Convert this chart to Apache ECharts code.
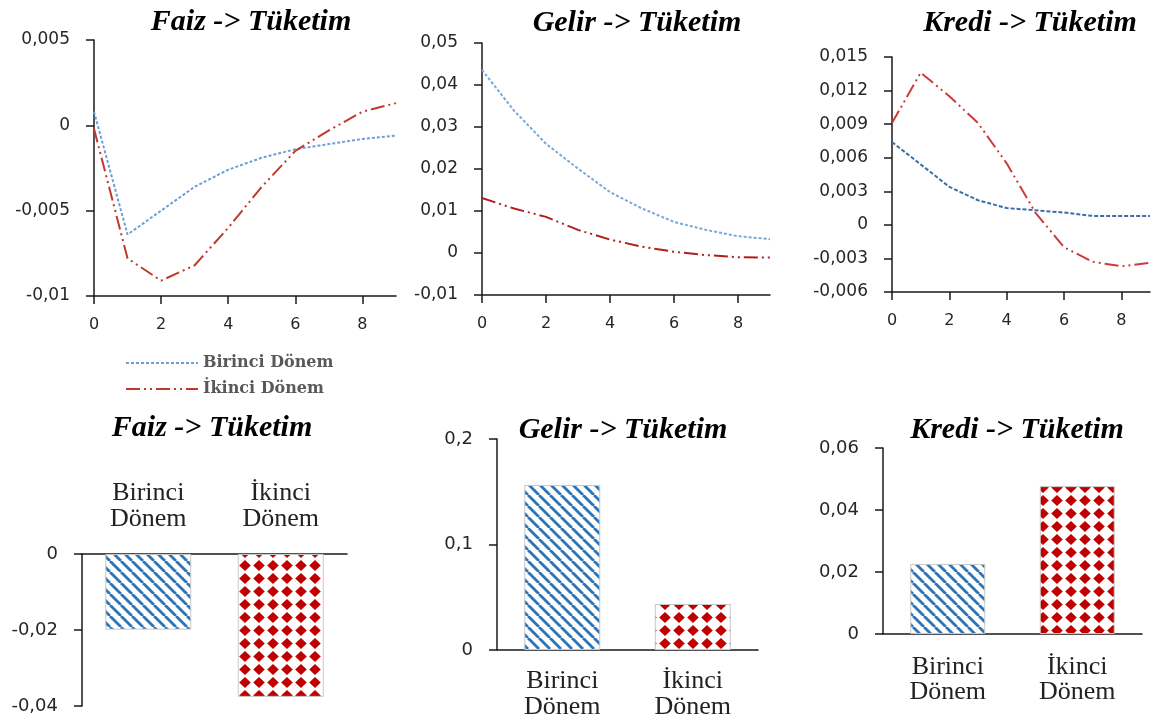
<!DOCTYPE html>
<html>
<head>
<meta charset="utf-8">
<script src="https://cdn.jsdelivr.net/npm/echarts@6/dist/echarts.min.js"></script>
<style>
  html, body { margin: 0; padding: 0; background: #fff; }
  #main { width: 1154px; height: 721px; }
</style>
</head>
<body>
<div id="main"></div>
<script>
// periods 0..9 (tick labels on the top row)
const steps = ['0', '1', '2', '3', '4', '5', '6', '7', '8', '9'];

// impulse responses, first / second period
const faizBirinci = [0.0008, -0.0064, -0.005, -0.0036, -0.0026, -0.0019, -0.0014, -0.0011, -0.0008, -0.0006];
const faizIkinci = [-0.0002, -0.0078, -0.0091, -0.0082, -0.006, -0.0036, -0.0015, -0.0003, 0.0008, 0.0013];
const gelirBirinci = [0.0436, 0.0339, 0.026, 0.0201, 0.0145, 0.0106, 0.0074, 0.0055, 0.004, 0.0033];
const gelirIkinci = [0.0131, 0.0106, 0.0086, 0.0055, 0.0032, 0.0015, 0.0003, -0.0005, -0.001, -0.0011];
const krediBirinci = [0.0074, 0.0054, 0.0034, 0.0022, 0.0015, 0.0013, 0.0011, 0.0008, 0.0008, 0.0008];
const krediIkinci = [0.0091, 0.0136, 0.0115, 0.0091, 0.0055, 0.0011, -0.002, -0.0033, -0.0037, -0.0034];

// cumulative responses (bar charts)
const barCats = ['Birinci\nDönem', 'İkinci\nDönem'];
const faizBar = [-0.0199, -0.0376];
const gelirBar = [0.1564, 0.0436];
const krediBar = [0.0226, 0.0477];

const titles = ['Faiz -> Tüketim', 'Gelir -> Tüketim', 'Kredi -> Tüketim'];

// fill patterns for the bars
function stripes () {
  const c = document.createElement('canvas');
  c.width = 11; c.height = 11;
  const g = c.getContext('2d');
  g.fillStyle = '#fff';
  g.fillRect(0, 0, 11, 11);
  g.strokeStyle = '#2e75b6';
  g.lineWidth = 2.8;
  [-11, 0, 11].forEach(o => {
    g.beginPath();
    g.moveTo(o, 0);
    g.lineTo(o + 11, 11);
    g.stroke();
  });
  return c;
}
function diamonds () {
  const c = document.createElement('canvas');
  c.width = 14; c.height = 13;
  const g = c.getContext('2d');
  g.fillStyle = '#fff';
  g.fillRect(0, 0, 14, 13);
  g.fillStyle = '#c00000';
  g.beginPath();
  g.moveTo(7, 1);
  g.lineTo(12.8, 6.5);
  g.lineTo(7, 12);
  g.lineTo(1.2, 6.5);
  g.closePath();
  g.fill();
  return c;
}
const stripeFill = { image: stripes(), repeat: 'repeat' };
const diamondFill = { image: diamonds(), repeat: 'repeat' };

const comma = v => String(v).replace('.', ',');
const black = '#1a1a1a';

const grids = [
  { left: 94, top: 40, width: 302, height: 256 },
  { left: 482, top: 43, width: 288, height: 252 },
  { left: 892, top: 57, width: 258, height: 235 },
  { left: 82, top: 554, width: 265, height: 152 },
  { left: 497, top: 439, width: 261, height: 211 },
  { left: 883, top: 448, width: 259, height: 186 }
];

const lineX = i => ({
  type: 'category',
  gridIndex: i,
  data: steps,
  boundaryGap: false,
  axisLine: { onZero: false, lineStyle: { color: black, width: 1.5 } },
  axisTick: { interval: 1, length: 8, lineStyle: { color: black, width: 1.5 } },
  axisLabel: { interval: 1, margin: 21, fontFamily: 'DejaVu Sans', fontSize: 16, color: '#262626' },
  splitLine: { show: false }
});
const valY = (i, min, max, interval, fontSize) => ({
  type: 'value',
  gridIndex: i,
  min: min,
  max: max,
  interval: interval,
  axisLine: { show: true, onZero: false, lineStyle: { color: black, width: 1.5 } },
  axisTick: { show: true, length: 8, lineStyle: { color: black, width: 1.5 } },
  axisLabel: { margin: 24, formatter: comma, fontFamily: 'DejaVu Sans', fontSize: fontSize, color: '#262626' },
  splitLine: { show: false }
});
const barX = (i, position, margin, lineHeight) => ({
  type: 'category',
  gridIndex: i,
  data: barCats,
  position: position,
  axisLine: { onZero: false, lineStyle: { color: black, width: 1.5 } },
  axisTick: { show: false },
  axisLabel: { margin: margin, fontFamily: 'Liberation Serif', fontSize: 26, lineHeight: lineHeight, color: '#222' }
});

const line = (name, i, data, color, dash) => ({
  name: name, type: 'line', xAxisIndex: i, yAxisIndex: i, data: data,
  symbol: 'none', lineStyle: { color: color, width: 2, type: dash }, itemStyle: { color: color }
});
const barSeries = (i, data, width) => ({
  name: 'bar' + i, type: 'bar', xAxisIndex: i, yAxisIndex: i, barWidth: width,
  data: data.map((v, k) => ({
    value: v,
    itemStyle: { color: k === 0 ? stripeFill : diamondFill, borderColor: '#c8c8c8', borderWidth: 1 }
  }))
});

const redDash = [14, 4, 2, 4, 2, 4];
const titleSpots = [[251, 22], [637, 23], [1030, 23], [212, 428], [623, 430], [1017, 430]];

const myChart = echarts.init(document.getElementById('main'));
myChart.setOption({
  animation: false,
  grid: grids,
  xAxis: [
    lineX(0), lineX(1), lineX(2),
    barX(3, 'top', 22, 26), barX(4, 'bottom', 18, 26), barX(5, 'bottom', 21, 25)
  ],
  yAxis: [
    valY(0, -0.01, 0.005, 0.005, 17),
    valY(1, -0.01, 0.05, 0.01, 17),
    valY(2, -0.006, 0.015, 0.003, 17),
    valY(3, -0.04, 0, 0.02, 18),
    valY(4, 0, 0.2, 0.1, 18),
    valY(5, 0, 0.06, 0.02, 18)
  ],
  legend: {
    data: ['Birinci Dönem', 'İkinci Dönem'],
    orient: 'vertical',
    left: 120,
    top: 350,
    itemWidth: 72,
    itemHeight: 14,
    itemGap: 10,
    selectedMode: false,
    itemStyle: { opacity: 0 },
    textStyle: { fontFamily: 'DejaVu Serif', fontWeight: 'bold', fontSize: 16, color: '#595959' }
  },
  graphic: titleSpots.map((p, k) => ({
    type: 'text',
    x: p[0],
    y: p[1],
    style: {
      text: titles[k % 3],
      font: 'italic bold 30px "Liberation Serif"',
      fill: '#000',
      textAlign: 'center',
      textVerticalAlign: 'middle'
    }
  })),
  series: [
    line('Birinci Dönem', 0, faizBirinci, '#6b9fd6', [3, 2]),
    line('İkinci Dönem', 0, faizIkinci, '#c0392b', redDash),
    line('Birinci Dönem', 1, gelirBirinci, '#79a8da', [3, 2]),
    line('İkinci Dönem', 1, gelirIkinci, '#b01e1e', redDash),
    line('Birinci Dönem', 2, krediBirinci, '#3b6ea8', [4, 2]),
    line('İkinci Dönem', 2, krediIkinci, '#cc3b3b', redDash),
    barSeries(3, faizBar, 86),
    barSeries(4, gelirBar, 76),
    barSeries(5, krediBar, 75)
  ]
});
window.addEventListener('resize', () => {
  myChart.resize();
});
</script>
</body>
</html>
